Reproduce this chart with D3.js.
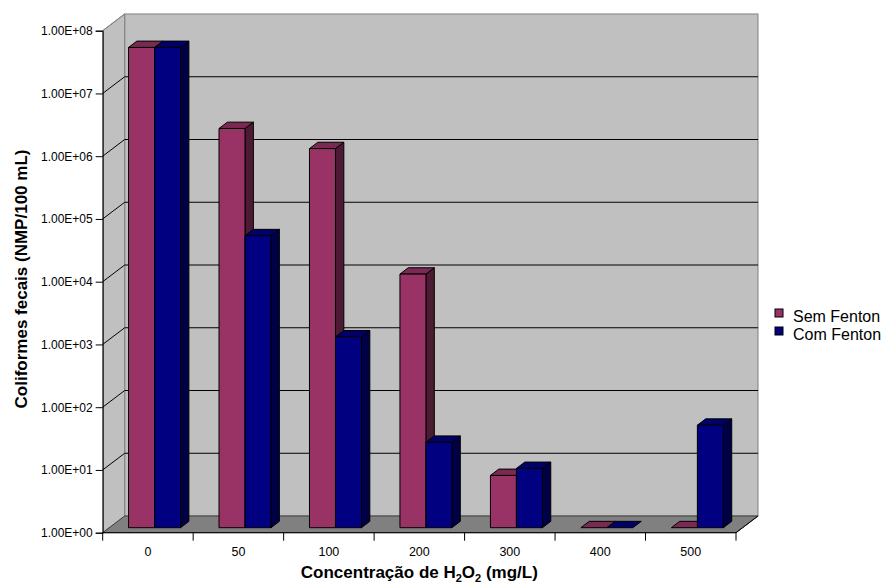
<!DOCTYPE html>
<html><head><meta charset="utf-8">
<script src="https://cdn.jsdelivr.net/npm/d3@7"></script>
<style>body{margin:0;background:#fff}svg{display:block;font-family:Arial,"Liberation Sans",sans-serif}</style>
</head><body><svg id="c" width="885" height="583"></svg>
<script>
const categories = ["0","50","100","200","300","400","500"];
const seriesNames = ["Sem Fenton","Com Fenton"];
const semFenton = [4.5e7, 2.3e6, 1.1e6, 1.1e4, 6.8, 1, 1];
const comFenton = [4.5e7, 4.5e4, 1.1e3, 23, 8.8, 1, 43];
const yTicks = [1e0,1e1,1e2,1e3,1e4,1e5,1e6,1e7,1e8];

const colors = {
  "Sem Fenton": {front:"#993366", top:"#7a2952", side:"#4c1a33"},
  "Com Fenton": {front:"#000080", top:"#000068", side:"#000044"}
};

const svg = d3.select("#c");
const L = 102.7, R = 736, T = 30.7, B = 532.7;
const DX = 22, DY = 16.7;        // wall depth projection
const z0 = 0.3, z1 = 0.68;       // bar depth range (fraction)

const y = d3.scaleLog().domain([1,1e8]).range([B,T]);
const x0 = d3.scaleBand().domain(categories).range([L,R]).padding(0);
const x1 = d3.scaleBand().domain(seriesNames).range([0,x0.bandwidth()]).paddingInner(0).paddingOuter(0.74);

// back wall
svg.append("rect").attr("x",L+DX).attr("y",T-DY).attr("width",R-L).attr("height",B-T)
  .attr("fill","#c0c0c0").attr("stroke","#808080");
// left wall
svg.append("path").attr("d",`M${L},${T}L${L+DX},${T-DY}L${L+DX},${B-DY}L${L},${B}Z`)
  .attr("fill","#c0c0c0").attr("stroke","#808080");
// floor
svg.append("path").attr("d",`M${L},${B}L${L+DX},${B-DY}L${R+DX},${B-DY}L${R},${B}Z`)
  .attr("fill","#808080").attr("stroke","#404040");

// gridlines
yTicks.forEach(t => {
  const yy = y(t);
  if (t > 1 && t < 1e8) {
    svg.append("line").attr("x1",L+DX).attr("x2",R+DX).attr("y1",yy-DY).attr("y2",yy-DY)
      .attr("stroke","#000").attr("stroke-width",1);
  }
  if (t > 1) {
    svg.append("line").attr("x1",L).attr("y1",yy).attr("x2",L+DX).attr("y2",yy-DY)
      .attr("stroke", t===1e8 ? "#808080" : "#000");
  }
});

// bars
const data = categories.map((c,i)=>({cat:c, vals:[{s:"Sem Fenton",v:semFenton[i]},{s:"Com Fenton",v:comFenton[i]}]}));
const bw = x1.bandwidth();
const fdx = z0*DX, fdy = z0*DY, ddx = (z1-z0)*DX, ddy = (z1-z0)*DY;
data.forEach(d => {
  d.vals.forEach(b => {
    const xl = x0(d.cat) + x1(b.s) + fdx;
    const yb = y(1) - fdy;
    const yt = y(b.v) - fdy;
    const col = colors[b.s];
    const g = svg.append("g").attr("stroke","#000").attr("stroke-width",1).attr("stroke-linejoin","round");
    if (yb - yt > 0.5) {
      g.append("path").attr("d",`M${xl+bw},${yt}L${xl+bw+ddx},${yt-ddy}L${xl+bw+ddx},${yb-ddy}L${xl+bw},${yb}Z`).attr("fill",col.side);
    }
    g.append("path").attr("d",`M${xl},${yt}L${xl+ddx},${yt-ddy}L${xl+bw+ddx},${yt-ddy}L${xl+bw},${yt}Z`).attr("fill",col.top);
    if (yb - yt > 0.5) {
      g.append("rect").attr("x",xl).attr("y",yt).attr("width",bw).attr("height",yb-yt).attr("fill",col.front);
    }
  });
});

// y axis
const yAxis = d3.axisLeft(y).tickValues(yTicks).tickSize(7).tickPadding(3)
  .tickFormat(d => "1.00E+" + String(Math.round(Math.log10(d))).padStart(2,"0"));
const ya = svg.append("g").attr("transform",`translate(${L},0)`).call(yAxis);
ya.select(".domain").attr("stroke","#000");
ya.selectAll("text").attr("font-size",12).attr("fill","#000").attr("font-family","Arial, 'Liberation Sans', sans-serif");

// x axis
const xTickScale = d3.scaleLinear().domain([0,categories.length]).range([L,R]);
const xa = svg.append("g").attr("transform",`translate(0,${B})`);
xa.append("line").attr("x1",L).attr("x2",R).attr("stroke","#000");
d3.range(categories.length+1).forEach(i => {
  xa.append("line").attr("x1",xTickScale(i)).attr("x2",xTickScale(i)).attr("y1",0).attr("y2",8).attr("stroke","#000");
});
xa.selectAll("text.cat").data(categories).join("text").attr("class","cat")
  .attr("x",d=>x0(d)+x0.bandwidth()/2).attr("y",23).attr("text-anchor","middle")
  .attr("font-size",12.5).text(d=>d);
// floor right edge
svg.append("line").attr("x1",R).attr("y1",B).attr("x2",R+DX).attr("y2",B-DY).attr("stroke","#000");

// axis titles
const xt = svg.append("text").attr("x",(L+R)/2).attr("y",578).attr("text-anchor","middle")
  .attr("font-size",17).attr("font-weight","bold");
xt.append("tspan").text("Concentração de H");
xt.append("tspan").attr("font-size",11).attr("dy",4).text("2");
xt.append("tspan").attr("dy",-4).text("O");
xt.append("tspan").attr("font-size",11).attr("dy",4).text("2");
xt.append("tspan").attr("dy",-4).text(" (mg/L)");

svg.append("text").attr("transform",`translate(27,279) rotate(-90)`).attr("text-anchor","middle")
  .attr("font-size",17).attr("font-weight","bold").text("Coliformes fecais (NMP/100 mL)");

// legend
const lg = svg.append("g").attr("transform","translate(775,309)");
seriesNames.forEach((s,i) => {
  lg.append("rect").attr("x",0).attr("y",i*18).attr("width",8).attr("height",8)
    .attr("fill",colors[s].front).attr("stroke","#000");
  lg.append("text").attr("x",18).attr("y",i*18+12.5).attr("font-size",16).text(s);
});
</script></body></html>
